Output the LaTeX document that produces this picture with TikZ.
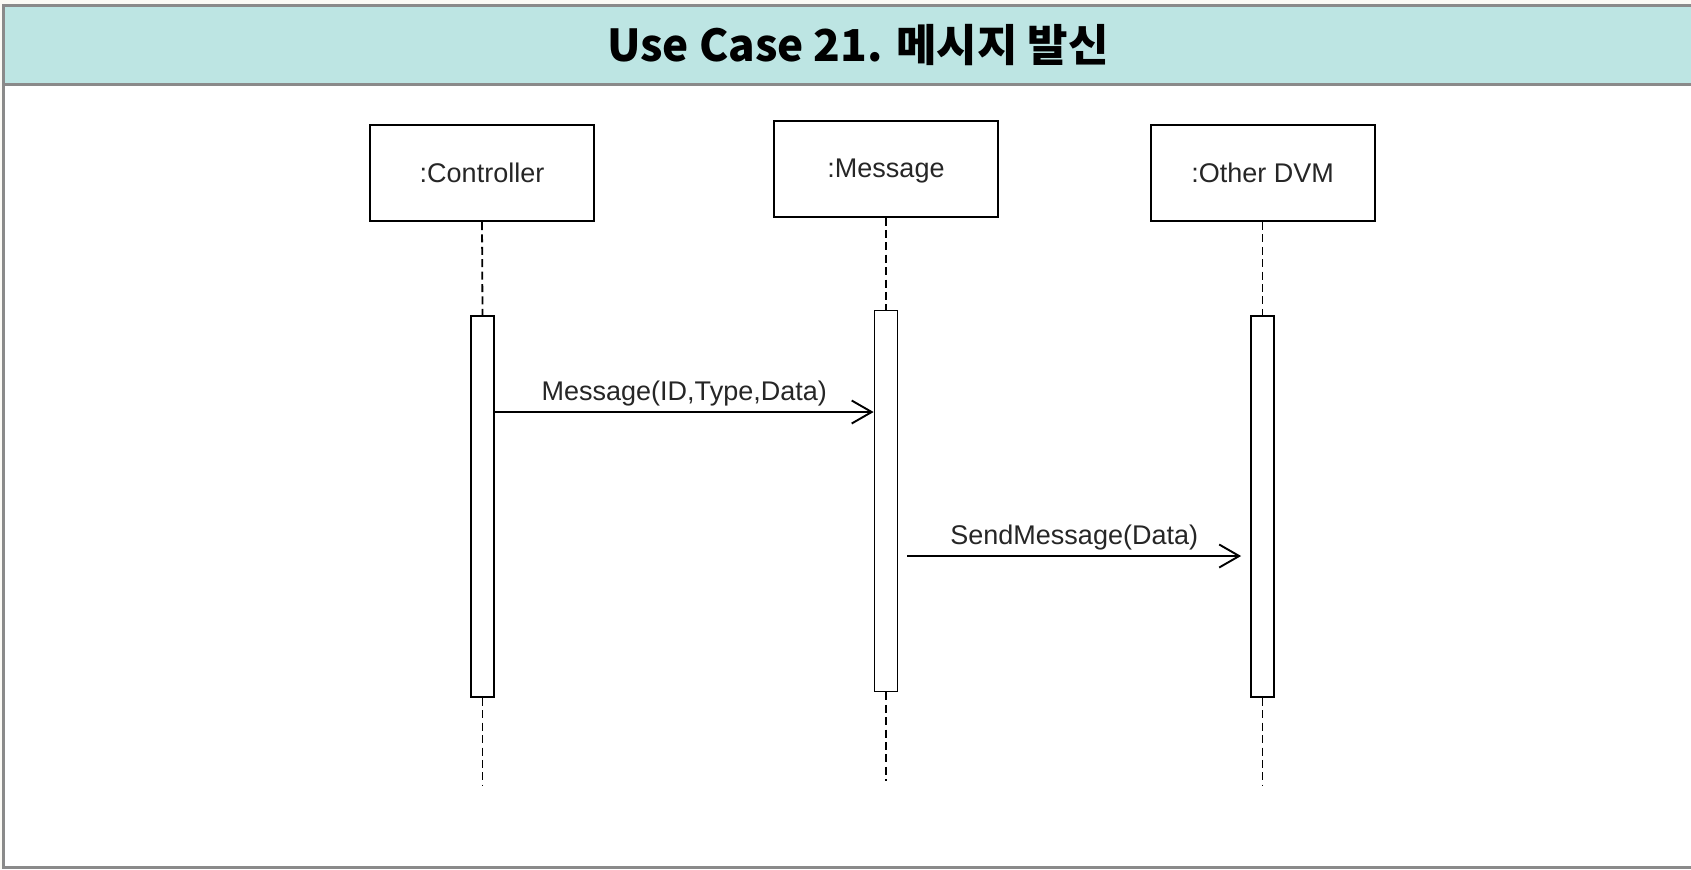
\documentclass[tikz,border=0pt]{standalone}
\usepackage{fontspec}
\setmainfont{Liberation Sans}
\newfontfamily\krfont{Noto Sans CJK KR}
\usetikzlibrary{arrows.meta}

\definecolor{headfill}{RGB}{189,229,227}
\definecolor{framegray}{RGB}{138,138,138}
\definecolor{paper}{RGB}{251,250,245}

\begin{document}
\begin{tikzpicture}[x=0.5pt, y=-0.5pt,
		objbox/.style={draw, line width=1pt, fill=white, minimum width=112pt, minimum height=48pt, text depth=0pt, font=\fontsize{13.5}{16}\selectfont, text=black!85},
		actbar/.style={draw, line width=0.9pt, fill=white, minimum width=11.5pt, minimum height=190.5pt, inner sep=0pt},
		lifeline/.style={line width=0.9pt, dash pattern=on 4pt off 2.2pt},
		callmsg/.style={line width=0.95pt, -{Straight Barb[length=10pt,width=11.5pt,line width=0.95pt]}},
		msglabel/.style={font=\fontsize{13.5}{16}\selectfont, text=black!85}]
	\useasboundingbox (0,0) rectangle (1691,869);
	\fill[paper] (0,0) rectangle (1691,869);
	
	% frame and header
	\fill[white] (3,5.5) rectangle (1700,867.5);
	\fill[headfill] (3,5.5) rectangle (1700,84.5);
	\draw[framegray, line width=1.5pt] (1700,84.5) -- (3,84.5);
	\draw[framegray, line width=1.5pt] (1700,5.5) -- (3,5.5) -- (3,867.5) -- (1700,867.5);
	\node[font=\krfont\bfseries\fontsize{22}{26}\selectfont] (title) at (858,45) {Use Case 21. 메시지 발신};
	
	% objects
	\node[objbox] (ctrl) at (482,173) {:Controller};
	\node[objbox] (msg) at (886,168.5) {:Message};
	\node[objbox] (dvm) at (1262.5,173) {:Other DVM};
	
	% activation bars
	\node[actbar] (ctrlbar) at (482.5,506.5) {};
	\node[actbar] (msgbar) at (886,501) {};
	\node[actbar] (dvmbar) at (1262.5,506.5) {};
	
	\coordinate (ctrlend) at (482.5,785);
	\coordinate (msgend) at (886,781);
	\coordinate (dvmend) at (1262.5,785);
	
	% lifelines
	\draw[lifeline] (ctrl.south) -- (ctrlbar.north);
	\draw[lifeline] (ctrlbar.south) -- (ctrlend);
	\draw[lifeline] (msg.south) -- (msgbar.north);
	\draw[lifeline] (msgbar.south) -- (msgend);
	\draw[lifeline] (dvm.south) -- (dvmbar.north);
	\draw[lifeline] (dvmbar.south) -- (dvmend);
	
	% messages
	\draw[callmsg] (ctrlbar.east |- 0,412) -- node[msglabel, above=-1pt] {Message(ID,Type,Data)} (msgbar.west |- 0,412);
	\draw[callmsg] ([xshift=4.5pt]msgbar.east |- 0,556) -- node[msglabel, above=-1pt] {SendMessage(Data)} ([xshift=-4.5pt]dvmbar.west |- 0,556);
\end{tikzpicture}
\end{document}
